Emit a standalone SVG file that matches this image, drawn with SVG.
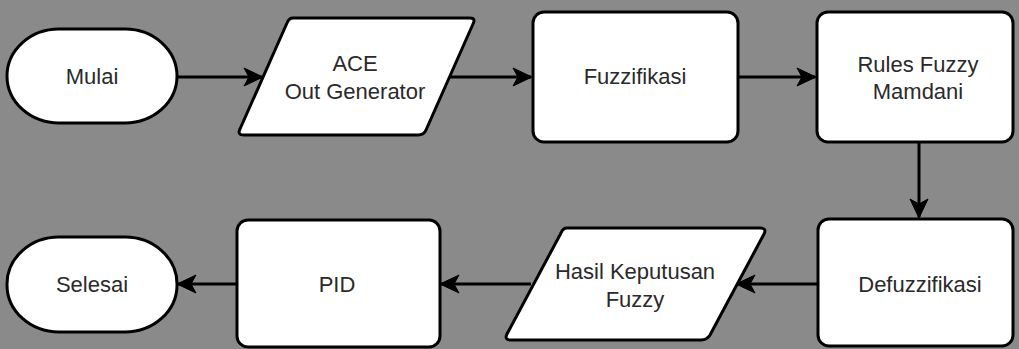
<svg xmlns="http://www.w3.org/2000/svg" width="1019" height="349" viewBox="0 0 1019 349">
  <defs>
    <style>
      .shape { fill: #ffffff; stroke: #000000; stroke-width: 3; stroke-linejoin: round; }
      .label { font-family: "Liberation Sans", Arial, sans-serif; font-size: 22px; fill: #2a2a2a; text-anchor: middle; dominant-baseline: central; }
      .edge { fill: none; stroke: #000000; stroke-width: 3; marker-end: url(#arrow); }
    </style>
    <marker id="arrow" markerUnits="userSpaceOnUse" markerWidth="22" markerHeight="22" viewBox="0 0 22 22" refX="19" refY="11" orient="auto">
      <path d="M1,2 L20,11 L1,20 L6,11 Z" fill="#000000" stroke="#000000" stroke-width="1" stroke-linejoin="miter"/>
    </marker>
  </defs>

  <rect x="0" y="0" width="1019" height="349" fill="#8a8a8a"/>

  <g id="connectors">
    <line class="edge" x1="177" y1="77" x2="262" y2="77"/>
    <line class="edge" x1="449" y1="77" x2="531" y2="77"/>
    <line class="edge" x1="738" y1="77" x2="815" y2="77"/>
    <line class="edge" x1="919" y1="142" x2="919" y2="217"/>
    <line class="edge" x1="818" y1="284" x2="737" y2="284"/>
    <line class="edge" x1="531" y1="284" x2="441" y2="284"/>
    <line class="edge" x1="237" y1="284" x2="178" y2="284"/>
  </g>

  <g id="node-mulai">
    <rect class="shape" x="7" y="29" width="170" height="94" rx="52" ry="47"/>
    <text class="label" x="92" y="76">Mulai</text>
  </g>

  <g id="node-ace">
    <path class="shape" d="M293,18 L470,18 Q476,18 473,24 L426,130 Q424,135 418,135 L244,135 Q237,135 240,129 L287,23 Q289,18 293,18 Z"/>
    <text class="label" x="355" y="63">ACE</text>
    <text class="label" x="355" y="91">Out Generator</text>
  </g>

  <g id="node-fuzzifikasi">
    <rect class="shape" x="533" y="12" width="205" height="130" rx="11" ry="11"/>
    <text class="label" x="635" y="76">Fuzzifikasi</text>
  </g>

  <g id="node-rules">
    <rect class="shape" x="817" y="12" width="196" height="130" rx="11" ry="11"/>
    <text class="label" x="918" y="64">Rules Fuzzy</text>
    <text class="label" x="918" y="91">Mamdani</text>
  </g>

  <g id="node-defuzzifikasi">
    <rect class="shape" x="818" y="219" width="195" height="127" rx="11" ry="11"/>
    <text class="label" x="920" y="284">Defuzzifikasi</text>
  </g>

  <g id="node-hasil">
    <path class="shape" d="M567,228 L760,228 Q767,228 764,234 L710,335 Q707,340 701,340 L511,340 Q504,340 507,334 L561,233 Q563,228 567,228 Z"/>
    <text class="label" x="635" y="271">Hasil Keputusan</text>
    <text class="label" x="635" y="299">Fuzzy</text>
  </g>

  <g id="node-pid">
    <rect class="shape" x="237" y="220" width="203" height="127" rx="11" ry="11"/>
    <text class="label" x="337" y="284">PID</text>
  </g>

  <g id="node-selesai">
    <rect class="shape" x="7" y="237" width="170" height="95" rx="52" ry="47"/>
    <text class="label" x="92" y="284">Selesai</text>
  </g>
</svg>
